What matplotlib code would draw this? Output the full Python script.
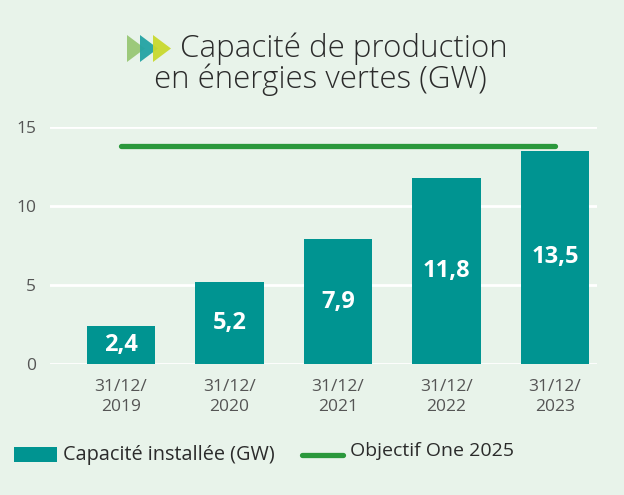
import matplotlib
matplotlib.use("Agg")
import matplotlib.pyplot as plt
from matplotlib.patches import Polygon, Rectangle
from matplotlib.lines import Line2D

categories = ["31/12/\n2019", "31/12/\n2020", "31/12/\n2021", "31/12/\n2022", "31/12/\n2023"]
capacity = [2.4, 5.2, 7.9, 11.8, 13.5]
capacity_labels = ["2,4", "5,2", "7,9", "11,8", "13,5"]
objective = 13.8
yticks = [0, 5, 10, 15]

BG = "#e8f3ea"
TEAL = "#009491"
GREEN = "#2a983c"
TXT = "#2b2b2b"
GREY = "#555555"

plt.rcParams['font.family'] = ['Open Sans', 'DejaVu Sans']

fig = plt.figure(figsize=(6.24, 4.95), dpi=100, facecolor=BG)
ax = fig.add_axes([50/624, 1-364/495, (597-50)/624, (364-127)/495])
ax.set_facecolor(BG)

x = list(range(len(categories)))
ax.bar(x, capacity, width=0.63, color=TEAL, zorder=3)
for xi, v, lab in zip(x, capacity, capacity_labels):
    ax.text(xi, v/2, lab, ha="center", va="center", color="white",
            fontsize=17, fontweight="bold", zorder=4)

ax.plot([x[0], x[-1]], [objective, objective], color=GREEN, lw=3.8,
        solid_capstyle="round", zorder=4)

ax.set_ylim(0, 15)
ax.set_xlim(-0.654, 4.387)
ax.set_yticks(yticks)
ax.set_yticklabels([str(t) for t in yticks], fontsize=12.5, color=GREY)
ax.set_xticks(x)
ax.set_xticklabels(categories, fontsize=12.5, color=GREY, linespacing=1.35)
ax.tick_params(axis="y", length=0, pad=10)
ax.tick_params(axis="x", length=0, pad=11)
ax.grid(axis="y", color="white", lw=2, zorder=1)
for s in ax.spines.values():
    s.set_visible(False)

# Title
fig.text(180/624, 1-49/495, "Capacité de production", fontsize=22.5, color=TXT,
         ha="left", va="center", fontweight=300)
fig.text(320/624, 1-80/495, "en énergies vertes (GW)", fontsize=22.5, color=TXT,
         ha="center", va="center", fontweight=300)

# Icon: three chevrons
def tri(x0, color, alpha=1.0):
    pts = [(x0, 35), (x0, 62), (x0 + 18, 48.5)]
    pts = [(px/624, 1-py/495) for px, py in pts]
    fig.patches.append(Polygon(pts, closed=True, transform=fig.transFigure,
                               facecolor=color, edgecolor="none", alpha=alpha))
tri(127, "#9cc97b")
tri(140, "#23a3a4", 0.95)
tri(153, "#c9d92e", 0.95)

# Legend
fig.patches.append(Rectangle((14/624, 1-462/495), 43/624, 15/495, transform=fig.transFigure,
                             facecolor=TEAL, edgecolor="none"))
fig.text(63/624, 1-455/495, "Capacité installée (GW)", fontsize=14.3, color=TXT,
         ha="left", va="center")
fig.lines.append(Line2D([302/624, 343/624], [1-455/495, 1-455/495], transform=fig.transFigure,
                        color=GREEN, lw=3.8, solid_capstyle="round"))
fig.text(350/624, 1-451/495, "Objectif One 2025", fontsize=14, color=TXT,
         ha="left", va="center")

fig.savefig("out.png", dpi=100, facecolor=BG)
